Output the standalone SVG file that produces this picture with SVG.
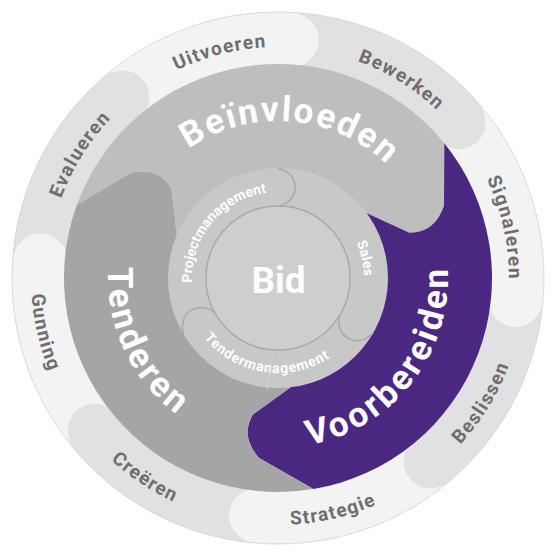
<svg xmlns="http://www.w3.org/2000/svg" width="556" height="556" viewBox="0 0 556 556">
<style>
.lt{fill:#f3f3f3}
.dk{fill:#e1e1e1}
.ol{font-family:Roboto,"Liberation Sans",sans-serif;font-weight:700;font-size:19px;fill:#6e6e6e;letter-spacing:1.3px}
.ml{font-family:Roboto,"Liberation Sans",sans-serif;font-weight:700;font-size:35px;fill:#ffffff}
.il{font-family:Roboto,"Liberation Sans",sans-serif;font-weight:700;font-size:14px;fill:#ffffff}
.sep{fill:none;stroke:#a9a9a9;stroke-width:1.5}
</style>
<defs>
<path id="pUit" d="M 90.17,143.53 A 231 231 0 0 1 377.81,69.68"/>
<path id="pBew" d="M 245.45,49.30 A 231 231 0 0 1 497.57,206.23"/>
<path id="pSig" d="M 418.62,94.74 A 231 231 0 0 1 482.90,384.66"/>
<path id="pEva" d="M 49.25,310.15 A 231 231 0 0 1 206.62,58.31"/>
<path id="pBes" d="M 356.37,512.24 A 247 247 0 0 0 522.29,241.49"/>
<path id="pStr" d="M 167.02,498.66 A 247 247 0 0 0 476.04,425.61"/>
<path id="pCre" d="M 40.93,347.32 A 247 247 0 0 0 305.10,523.51"/>
<path id="pGun" d="M 57.73,166.25 A 247 247 0 0 0 129.70,475.52"/>
<path id="pBei" d="M 149.08,188.40 A 157 157 0 0 1 420.06,211.15"/>
<path id="pVoo" d="M 255.22,446.47 A 170 170 0 0 0 435.30,213.49"/>
<path id="pTen" d="M 138.24,181.22 A 170 170 0 0 0 264.07,447.43"/>
<path id="pPro" d="M 212.51,333.74 A 86 86 0 0 1 320.48,203.22"/>
<path id="pSal" d="M 317.31,201.51 A 86 86 0 0 1 346.50,330.00"/>
<path id="pTdm" d="M 183.02,279.82 A 95 95 0 0 0 367.88,308.77"/>
</defs>
<rect width="556" height="556" fill="#ffffff"/>
<circle cx="278" cy="278" r="266" fill="#f3f3f3"/>
<g id="outer-ring">
<g id="uitvoeren">
<path class="lt" d="M 107.02,74.23 A 266 266 0 0 1 296.55,12.65 C 329.64,24.20 322.26,60.46 296.48,66.81 A 212 212 0 0 0 144.58,113.24 C 158.72,90.77 138.84,59.56 107.02,74.23 Z"/>
<text class="ol"><textPath href="#pUit" startOffset="50%" text-anchor="middle">Uitvoeren</textPath></text>
</g>
<g id="bewerken">
<path class="dk" d="M 296.55,12.65 A 266 266 0 0 1 481.77,107.02 C 496.44,138.84 465.23,158.72 442.76,144.58 A 212 212 0 0 0 296.48,66.81 C 322.26,60.46 329.64,24.20 296.55,12.65 Z"/>
<text class="ol"><textPath href="#pBew" startOffset="50%" text-anchor="middle">Bewerken</textPath></text>
</g>
<g id="signaleren">
<path class="lt" d="M 481.77,107.02 A 266 266 0 0 1 542.54,305.80 C 529.84,338.46 493.87,329.82 488.42,303.84 A 212 212 0 0 0 442.76,144.58 C 465.23,158.72 496.44,138.84 481.77,107.02 Z"/>
<text class="ol"><textPath href="#pSig" startOffset="50%" text-anchor="middle">Signaleren</textPath></text>
</g>
<g id="beslissen">
<path class="dk" d="M 542.54,305.80 A 266 266 0 0 1 445.40,484.72 C 413.33,498.83 394.00,467.29 408.52,445.06 A 212 212 0 0 0 488.42,303.84 C 493.87,329.82 529.84,338.46 542.54,305.80 Z"/>
<text class="ol"><textPath href="#pBes" startOffset="50%" text-anchor="middle">Beslissen</textPath></text>
</g>
<g id="strategie">
<path class="lt" d="M 445.40,484.72 A 266 266 0 0 1 250.20,542.54 C 217.54,529.84 226.18,493.87 252.16,488.42 A 212 212 0 0 0 408.52,445.06 C 394.00,467.29 413.33,498.83 445.40,484.72 Z"/>
<text class="ol"><textPath href="#pStr" startOffset="50%" text-anchor="middle">Strategie</textPath></text>
</g>
<g id="creeren">
<path class="dk" d="M 250.20,542.54 A 266 266 0 0 1 71.28,445.40 C 57.17,413.33 88.71,394.00 110.94,408.52 A 212 212 0 0 0 252.16,488.42 C 226.18,493.87 217.54,529.84 250.20,542.54 Z"/>
<text class="ol"><textPath href="#pCre" startOffset="50%" text-anchor="middle">Creëren</textPath></text>
</g>
<g id="gunning">
<path class="lt" d="M 71.28,445.40 A 266 266 0 0 1 13.01,254.82 C 25.14,221.94 61.26,229.95 67.16,255.84 A 212 212 0 0 0 110.94,408.52 C 88.71,394.00 57.17,413.33 71.28,445.40 Z"/>
<text class="ol"><textPath href="#pGun" startOffset="50%" text-anchor="middle">Gunning</textPath></text>
</g>
<g id="evalueren">
<path class="dk" d="M 13.01,254.82 A 266 266 0 0 1 107.02,74.23 C 138.84,59.56 158.72,90.77 144.58,113.24 A 212 212 0 0 0 67.16,255.84 C 61.26,229.95 25.14,221.94 13.01,254.82 Z"/>
<text class="ol"><textPath href="#pEva" startOffset="50%" text-anchor="middle">Evalueren</textPath></text>
</g>
</g>
<circle cx="278" cy="278" r="266" fill="none" stroke="#d2d2d2" stroke-width="0.8"/>
<g id="middle-ring">
<g id="beinvloeden">
<path fill="#bebebe" d="M 76.91,204.81 A 214 214 0 0 1 444.31,143.33 L 443.99,205.83 Q 434.69,233.07 409.43,232.75 L 363.11,211.51 A 108 108 0 0 0 177.17,239.30 L 171.52,188.65 Q 158.79,166.83 130.65,172.89 Z"/>
<text class="ml" style="letter-spacing:2px"><textPath href="#pBei" startOffset="50%" text-anchor="middle">Beïnvloeden</textPath></text>
</g>
<g id="voorbereiden">
<path fill="#4a2882" d="M 444.31,143.33 A 214 214 0 0 1 313.32,489.07 L 259.08,458.01 Q 239.95,436.50 252.67,414.67 L 293.96,384.81 A 108 108 0 0 0 363.11,211.51 L 409.43,232.75 Q 434.69,233.07 443.99,205.83 Z"/>
<text class="ml" style="letter-spacing:3px"><textPath href="#pVoo" startOffset="50%" text-anchor="middle">Voorbereiden</textPath></text>
</g>
<g id="tenderen">
<path fill="#a5a5a5" d="M 313.32,489.07 A 214 214 0 0 1 76.91,204.81 L 130.65,172.89 Q 158.79,166.83 171.52,188.65 L 177.17,239.30 A 108 108 0 0 0 293.96,384.81 L 252.67,414.67 Q 239.95,436.50 259.08,458.01 Z"/>
<text class="ml" style="letter-spacing:3px"><textPath href="#pTen" startOffset="50%" text-anchor="middle">Tenderen</textPath></text>
</g>
</g>
<g id="inner-ring">
<circle cx="278" cy="278" r="110" fill="#c8c8c8"/>
<g id="projectmanagement">
<text class="il"><textPath href="#pPro" startOffset="50%" text-anchor="middle">Projectmanagement</textPath></text>
</g>
<g id="sales">
<text class="il"><textPath href="#pSal" startOffset="50%" text-anchor="middle">Sales</textPath></text>
</g>
<g id="tendermanagement">
<text class="il" style="letter-spacing:0.8px"><textPath href="#pTdm" startOffset="50%" text-anchor="middle">Tendermanagement</textPath></text>
</g>
</g>
<g id="separators">
<path class="sep" d="M 278,168 C 304.54,175.38 297.03,204.42 277.37,206.00"/>
<path class="sep" d="M 373.26,333 C 353.60,352.30 332.21,331.27 340.67,313.45"/>
<path class="sep" d="M 183.71,334.65 C 176.37,308.11 205.13,299.59 216.61,315.62"/>
<line x1="273" y1="353" x2="267" y2="390" stroke="#d3d3d3" stroke-width="0.8"/>
</g>
<g id="bid">
<circle cx="278" cy="278" r="72" fill="#cecece" stroke="#a9a9a9" stroke-width="1.5"/>
<text x="278.5" y="293" text-anchor="middle" font-family="Roboto, 'Liberation Sans', sans-serif" font-weight="700" font-size="37" fill="#ffffff">Bid</text>
</g>
</svg>
